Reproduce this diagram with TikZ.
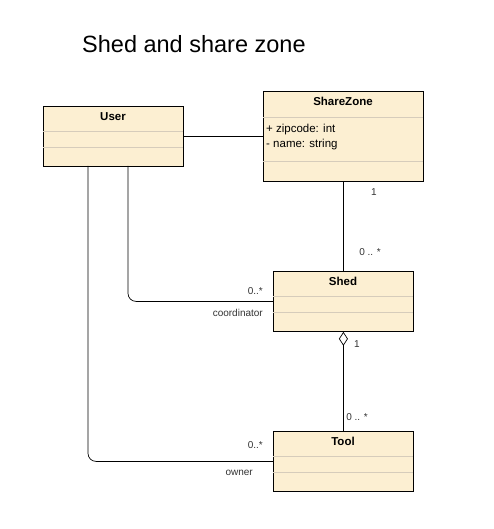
\documentclass[tikz,border=0pt]{standalone}
\usepackage{fontspec}
\setmainfont{Liberation Sans}
\usetikzlibrary{arrows.meta}
\definecolor{boxfill}{HTML}{FCEFD2}
\definecolor{sepline}{HTML}{D6CCBB}
\definecolor{labelgray}{HTML}{333333}
\begin{document}
\begin{tikzpicture}[x=1pt,y=1pt,
  classbox/.style={draw=black, fill=boxfill, line width=0.8pt, anchor=north west, inner sep=0pt, minimum width=#1},
  boxtitle/.style={font=\fontsize{11.5}{13}\selectfont\bfseries, text=black},
  attr/.style={font=\fontsize{11.5}{13}\selectfont, anchor=west, text=black, inner sep=0pt},
  sep/.style={draw=sepline, line width=0.8pt},
  conn/.style={draw=black, line width=0.7pt},
  lbl/.style={font=\fontsize{10}{12}\selectfont, text=labelgray, inner sep=0pt}
]
\useasboundingbox (0,0) rectangle (493,-529);
\fill[white] (0,0) rectangle (493,-529);

\node[font=\fontsize{23.5}{27}\selectfont, anchor=base west, inner sep=0pt] (title) at (82,-53) {Shed and share zone};

% User
\node[classbox=140pt, minimum height=60pt] (user) at (43,-106) {};
\node[boxtitle] (usert) at (113,-117) {User};
\draw[sep] (43.4,-131) -- (182.6,-131);
\draw[sep] (43.4,-147) -- (182.6,-147);

% ShareZone
\node[classbox=160pt, minimum height=90pt] (sz) at (263,-91) {};
\node[boxtitle] (szt) at (343,-101) {ShareZone};
\draw[sep] (263.4,-117) -- (422.6,-117);
\node[attr] (a1) at (266,-130) {+ zipcode: int};
\node[attr] (a2) at (266,-145) {- name: string};
\draw[sep] (263.4,-161) -- (422.6,-161);

% Shed
\node[classbox=140pt, minimum height=60pt] (shed) at (273,-271) {};
\node[boxtitle] (shedt) at (343,-281) {Shed};
\draw[sep] (273.4,-296) -- (412.6,-296);
\draw[sep] (273.4,-312) -- (412.6,-312);

% Tool
\node[classbox=140pt, minimum height=60pt] (tool) at (273,-431) {};
\node[boxtitle] (toolt) at (343,-441) {Tool};
\draw[sep] (273.4,-456) -- (412.6,-456);
\draw[sep] (273.4,-472) -- (412.6,-472);

% connectors
\draw[conn] (user.east) -- (sz.west |- user.east);
\draw[conn] (sz.south) -- (shed.north);
\coordinate (uc) at (128,-166);
\draw[conn, rounded corners=8pt] (uc) |- (shed.west);
\coordinate (uo) at (88,-166);
\draw[conn, rounded corners=8pt] (uo) |- (tool.west);
\draw[conn, {Diamond[open, length=14pt, width=9pt, line width=0.7pt]}-] (shed.south) -- (tool.north);

% labels
\node[lbl] (l1) at (374,-192) {1};
\node[lbl] (l2) at (370,-252) {0 .. *};
\node[lbl, anchor=east] (l3) at (263,-291) {0..*};
\node[lbl, anchor=east] (l4) at (263,-313) {coordinator};
\node[lbl] (l5) at (357,-344) {1};
\node[lbl] (l6) at (357,-417) {0 .. *};
\node[lbl, anchor=east] (l7) at (263,-445) {0..*};
\node[lbl, anchor=east] (l8) at (253,-473) {owner};
\end{tikzpicture}
\end{document}
